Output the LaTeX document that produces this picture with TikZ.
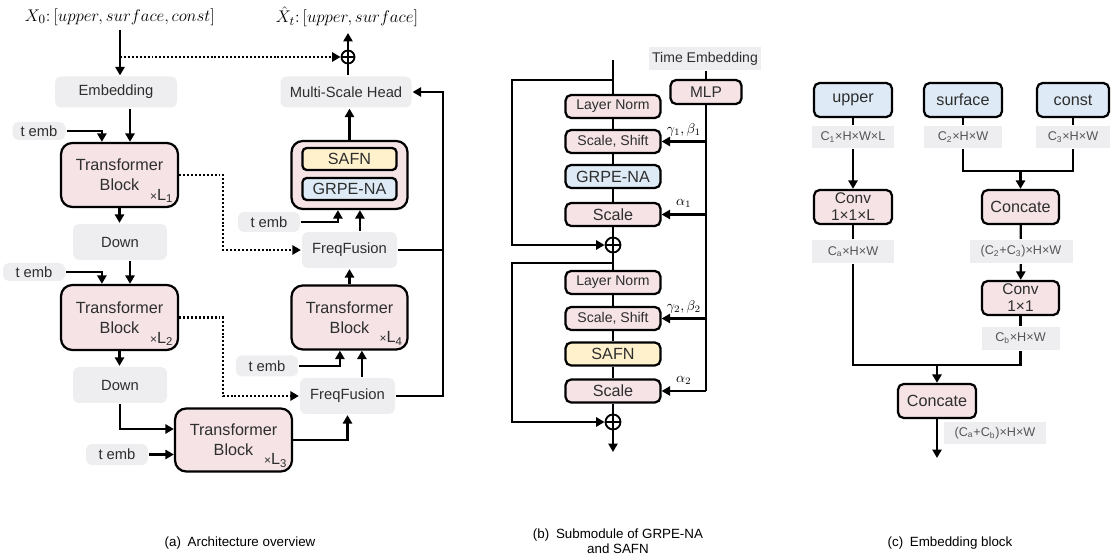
\documentclass[tikz,border=0pt]{standalone}
\usepackage{fontspec}
\setmainfont{Liberation Sans}
\usetikzlibrary{arrows.meta}

\definecolor{pinkfill}{HTML}{F5E3E6}
\definecolor{bluefill}{HTML}{DEEBF6}
\definecolor{yellowfill}{HTML}{FEF1CC}
\definecolor{grayfill}{HTML}{EEEEF0}
\definecolor{boxtxt}{HTML}{2E2E2E}
\definecolor{dimtxt}{HTML}{555555}

\begin{document}
\begin{tikzpicture}[x=0.025cm, y=-0.025cm, line width=1.6pt,
    >={Triangle[length=6pt,width=6.5pt]},
    sz/.style 2 args={minimum width=#1*0.025cm, minimum height=#2*0.025cm},
    pinkbox/.style={draw, fill=pinkfill, rounded corners=4pt, inner sep=0pt, align=center, text=boxtxt},
    bluebox/.style={pinkbox, fill=bluefill},
    yellowbox/.style={pinkbox, fill=yellowfill},
    tblock/.style={pinkbox, rounded corners=8pt, font=\fontsize{11.5}{14.5}\selectfont},
    graybox/.style={fill=grayfill, rounded corners=4pt, inner sep=0pt, text=boxtxt, font=\fontsize{10.5}{12}\selectfont},
    dimlab/.style={fill=grayfill, inner sep=0pt, text=dimtxt, font=\fontsize{9}{10}\selectfont},
    tag/.style={anchor=south east, inner sep=0pt, text=boxtxt, font=\fontsize{11.5}{12}\selectfont},
    oplus/.style={circle, draw, line width=1.3pt, inner sep=0pt, minimum size=#1*0.025cm,
      path picture={\draw[line width=1.3pt] (path picture bounding box.north) -- (path picture bounding box.south)
        (path picture bounding box.west) -- (path picture bounding box.east);}},
    dots/.style={dash pattern=on 1.4pt off 1.4pt},
    title/.style={inner sep=0pt, font=\fontsize{12.5}{14}\selectfont},
    caption/.style={inner sep=0pt, align=center, font=\fontsize{9.5}{11}\selectfont}]

  \useasboundingbox (0,0) rectangle (1111,556);

  % (a) architecture overview
  \node[title] (x0) at (120,17) {$X_0\colon[upper, surface, const]$};
  \node[title] (xt) at (347,17) {$\hat{X}_t\colon[upper, surface]$};
  \coordinate (xin)  at (120,30);
  \coordinate (xout) at (348,33);
  \coordinate (rail) at (443,92);
  \node[oplus=13] (p0) at (348,57) {};

  \node[graybox, sz={122}{31}] (emb) at (116,92)  {Embedding};
  \node[graybox, sz={131}{31}] (msh) at (346,92)  {Multi-Scale Head};
  \node[graybox, sz={94}{36}] (down1) at (120,242) {Down};
  \node[graybox, sz={94}{36}] (down2) at (120,385) {Down};
  \node[graybox, sz={95}{36}] (ff1) at (349.5,250) {FreqFusion};
  \node[graybox, sz={95}{36}] (ff2) at (347.5,396) {FreqFusion};

  \node[graybox, sz={53}{18}] (te1) at (39,131)    {t emb};
  \node[graybox, sz={62}{18}] (te2) at (34,272)    {t emb};
  \node[graybox, sz={62}{21}] (te3) at (117,454.5) {t emb};
  \node[graybox, sz={62}{21}] (te4) at (267,366)   {t emb};
  \node[graybox, sz={62}{20}] (te5) at (269,222)   {t emb};

  \node[tblock, sz={117}{64}] (tb1) at (119.5,175)   {Transformer\\Block};
  \node[tblock, sz={117}{65}] (tb2) at (119.5,317.5) {Transformer\\Block};
  \node[tblock, sz={117}{63}] (tb3) at (233.5,440)   {Transformer\\Block};
  \node[tblock, sz={116}{64}] (tb4) at (349.5,317.5) {Transformer\\Block};
  \node[tag] (n1) at ([xshift=-0.12cm,yshift=0.1cm]tb1.south east) {{\fontsize{8.5}{8}\selectfont×}L\textsubscript{1}};
  \node[tag] (n2) at ([xshift=-0.12cm,yshift=0.1cm]tb2.south east) {{\fontsize{8.5}{8}\selectfont×}L\textsubscript{2}};
  \node[tag] (n3) at ([xshift=-0.12cm,yshift=0.1cm]tb3.south east) {{\fontsize{8.5}{8}\selectfont×}L\textsubscript{3}};
  \node[tag] (n4) at ([xshift=-0.12cm,yshift=0.1cm]tb4.south east) {{\fontsize{8.5}{8}\selectfont×}L\textsubscript{4}};

  \node[pinkbox, rounded corners=8pt, sz={116}{68}] (big) at (349.5,175) {};
  \node[yellowbox, rounded corners=3pt, sz={94}{22}, font=\fontsize{11.5}{12}\selectfont] (safn) at (349.5,159) {SAFN};
  \node[bluebox, rounded corners=3pt, sz={94}{22}, font=\fontsize{11.5}{12}\selectfont] (grpe) at (349.5,189) {GRPE-NA};

  \draw[->] (xin) -- (xin |- emb.north);
  \draw[->, dots] (xin |- p0) -- (p0.west);
  \draw[->] (p0.north) -- (xout);
  \draw (p0.south |- msh.north) -- (p0.south);
  \draw[->] (te1.east) -| ([xshift=1.05cm]tb1.north west);
  \draw[->] ([xshift=0.35cm]emb.south) -- ([xshift=0.35cm]emb.south |- tb1.north);
  \draw[->] (tb1.south) -- (tb1.south |- down1.north);
  \draw[->, dots] (tb1.east) -- ++(44,0) |- (ff1.west);
  \draw[->] (te2.east) -| ([xshift=1.05cm]tb2.north west);
  \draw[->] ([xshift=0.25cm]down1.south) -- ([xshift=0.25cm]down1.south |- tb2.north);
  \draw[->] (tb2.south) -- (tb2.south |- down2.north);
  \draw[->, dots] (tb2.east) -- ++(44,0) |- (ff2.west);
  \draw[->] (down2.south) |- ([yshift=0.275cm]tb3.west);
  \draw[->] (te3.east) -- (te3.east -| tb3.west);
  \draw[->] (tb3.east) -| (ff2.south);
  \draw[->] (te4.east) -| ([xshift=-0.24cm]tb4.south);
  \draw[->] ([xshift=0.36cm]ff2.north) -- ([xshift=0.36cm]ff2.north |- tb4.south);
  \draw[->] (tb4.north) -- (tb4.north |- ff1.south);
  \draw[->] (te5.east) -| ([xshift=-0.29cm]big.south);
  \draw[->] ([xshift=0.26cm]ff1.north) -- ([xshift=0.26cm]ff1.north |- big.south);
  \draw[->] (big.north) -- (big.north |- msh.south);
  \draw (ff1.east) -- (ff1.east -| rail);
  \draw[->] (ff2.east) -| (rail) -- (msh.east);

  % (b) submodule
  \begin{scope}[every node/.append style={font=\fontsize{10}{11}\selectfont}]
    \coordinate (bin)  at (613,60);
    \coordinate (sk1)  at (613,80);
    \coordinate (sk2)  at (613,263);
    \coordinate (bout) at (613,452);
    \coordinate (mend) at (706,391);
    \node[pinkbox, sz={95}{23}]   (ln1) at (613,106.5) {Layer Norm};
    \node[pinkbox, sz={95}{23}]   (ss1) at (613,141.5) {Scale, Shift};
    \node[bluebox, sz={95}{23}, font=\fontsize{11.5}{12}\selectfont] (gr1) at (613,176.5) {GRPE-NA};
    \node[pinkbox, sz={95}{23}, font=\fontsize{11.5}{12}\selectfont] (sc1) at (613,214.5) {Scale};
    \node[oplus=15] (pl1) at (613,245) {};
    \node[pinkbox, sz={95}{23}]   (ln2) at (613,282.5) {Layer Norm};
    \node[pinkbox, sz={95}{23}]   (ss2) at (613,318.5) {Scale, Shift};
    \node[yellowbox, sz={95}{23}, font=\fontsize{11.5}{12}\selectfont] (sa2) at (613,354) {SAFN};
    \node[pinkbox, sz={95}{23}, font=\fontsize{11.5}{12}\selectfont] (sc2) at (613,391) {Scale};
    \node[oplus=15] (pl2) at (613,422) {};
    \node[graybox, rounded corners=0pt, sz={112}{23}, font=\fontsize{10}{11}\selectfont] (tim) at (705,58.5) {Time Embedding};
    \node[pinkbox, sz={71}{24}, font=\fontsize{11}{12}\selectfont] (mlp) at (706,92) {MLP};

    \draw (bin) -- (ln1.north);
    \draw (ln1) -- (ss1);
    \draw (ss1) -- (gr1);
    \draw (gr1) -- (sc1);
    \draw (sc1) -- (pl1);
    \draw[->] (sk1) -- ++(-101,0) |- (pl1.west);
    \draw (pl1) -- (ln2);
    \draw (ln2) -- (ss2);
    \draw (ss2) -- (sa2);
    \draw (sa2) -- (sc2);
    \draw (sc2) -- (pl2);
    \draw[->] (sk2) -- ++(-101,0) |- (pl2.west);
    \draw[->] (pl2) -- (bout);
    \draw (tim.south -| mlp.north) -- (mlp.north);
    \draw (mlp.south) -- (mend);
    \draw[->] (mlp.south |- ss1.east) -- node[above=3pt, inner sep=0pt] (g1) {$\gamma_1,\beta_1$} (ss1.east);
    \draw[->] (mlp.south |- sc1.east) -- node[above=4pt, inner sep=0pt] (a1) {$\alpha_1$} (sc1.east);
    \draw[->] (mlp.south |- ss2.east) -- node[above=3pt, inner sep=0pt] (g2) {$\gamma_2,\beta_2$} (ss2.east);
    \draw[->] (mend) -- node[above=4pt, inner sep=0pt] (a2) {$\alpha_2$} (sc2.east);
  \end{scope}

  % (c) embedding block
  \begin{scope}[every node/.append style={font=\fontsize{11.5}{12}\selectfont}]
    \coordinate (j1)   at (1020.5,171);
    \coordinate (j2)   at (937,365);
    \coordinate (cout) at (937,458);
    \node[bluebox, sz={78}{34}] (up) at (853,100)  {upper};
    \node[bluebox, sz={78}{34}] (sf) at (963,100)  {surface};
    \node[bluebox, sz={72}{34}] (cs) at (1073,100) {const};
    \node[dimlab, sz={82}{22}, font=\fontsize{9}{10}\selectfont] (lu) at (853,137)  {C\textsubscript{1}×H×W×L};
    \node[dimlab, sz={78}{22}, font=\fontsize{9}{10}\selectfont] (ls) at (963,137)  {C\textsubscript{2}×H×W};
    \node[dimlab, sz={74}{22}, font=\fontsize{9}{10}\selectfont] (lc) at (1073,137) {C\textsubscript{3}×H×W};
    \node[pinkbox, sz={78}{34}, font=\fontsize{11}{12}\selectfont] (cv1) at (853,207) {Conv\\1×1×L};
    \node[pinkbox, sz={77}{34}] (ct1) at (1020.5,207) {Concate};
    \node[dimlab, sz={82}{23}, font=\fontsize{9}{10}\selectfont] (la)  at (853,251.5)  {C\textsubscript{a}×H×W};
    \node[dimlab, sz={103}{23}, font=\fontsize{9}{10}\selectfont] (lsc) at (1021,251.5) {(C\textsubscript{2}+C\textsubscript{3})×H×W};
    \node[pinkbox, sz={77}{34}, font=\fontsize{11}{12}\selectfont] (cv2) at (1020.5,298) {Conv\\1×1};
    \node[dimlab, sz={78}{23}, font=\fontsize{9}{10}\selectfont] (lb)  at (1020.5,338.5) {C\textsubscript{b}×H×W};
    \node[pinkbox, sz={78}{34}] (ct2) at (937,401) {Concate};
    \node[dimlab, sz={102}{22}, font=\fontsize{9}{10}\selectfont] (lab) at (995,433) {(C\textsubscript{a}+C\textsubscript{b})×H×W};

    \draw (up) -- (lu);
    \draw[->] (lu) -- (cv1);
    \draw (sf) -- (ls);
    \draw (cs) -- (lc);
    \draw (ls.south) |- (j1) -| (lc.south);
    \draw[->] (j1) -- (ct1.north);
    \draw (cv1) -- (la);
    \draw (ct1) -- (lsc);
    \draw[->] (lsc) -- (cv2);
    \draw (cv2) -- (lb);
    \draw (la.south) |- (j2) -| (lb.south);
    \draw[->] (j2) -- (ct2.north);
    \draw[->] (ct2) -- (cout);
  \end{scope}

  % captions
  \node[caption] (capa) at (240,543) {(a)\enspace Architecture overview};
  \node[caption] (capb) at (618,541) {(b)\enspace Submodule of GRPE-NA\\and SAFN};
  \node[caption] (capc) at (950,543) {(c)\enspace Embedding block};

\end{tikzpicture}
\end{document}
